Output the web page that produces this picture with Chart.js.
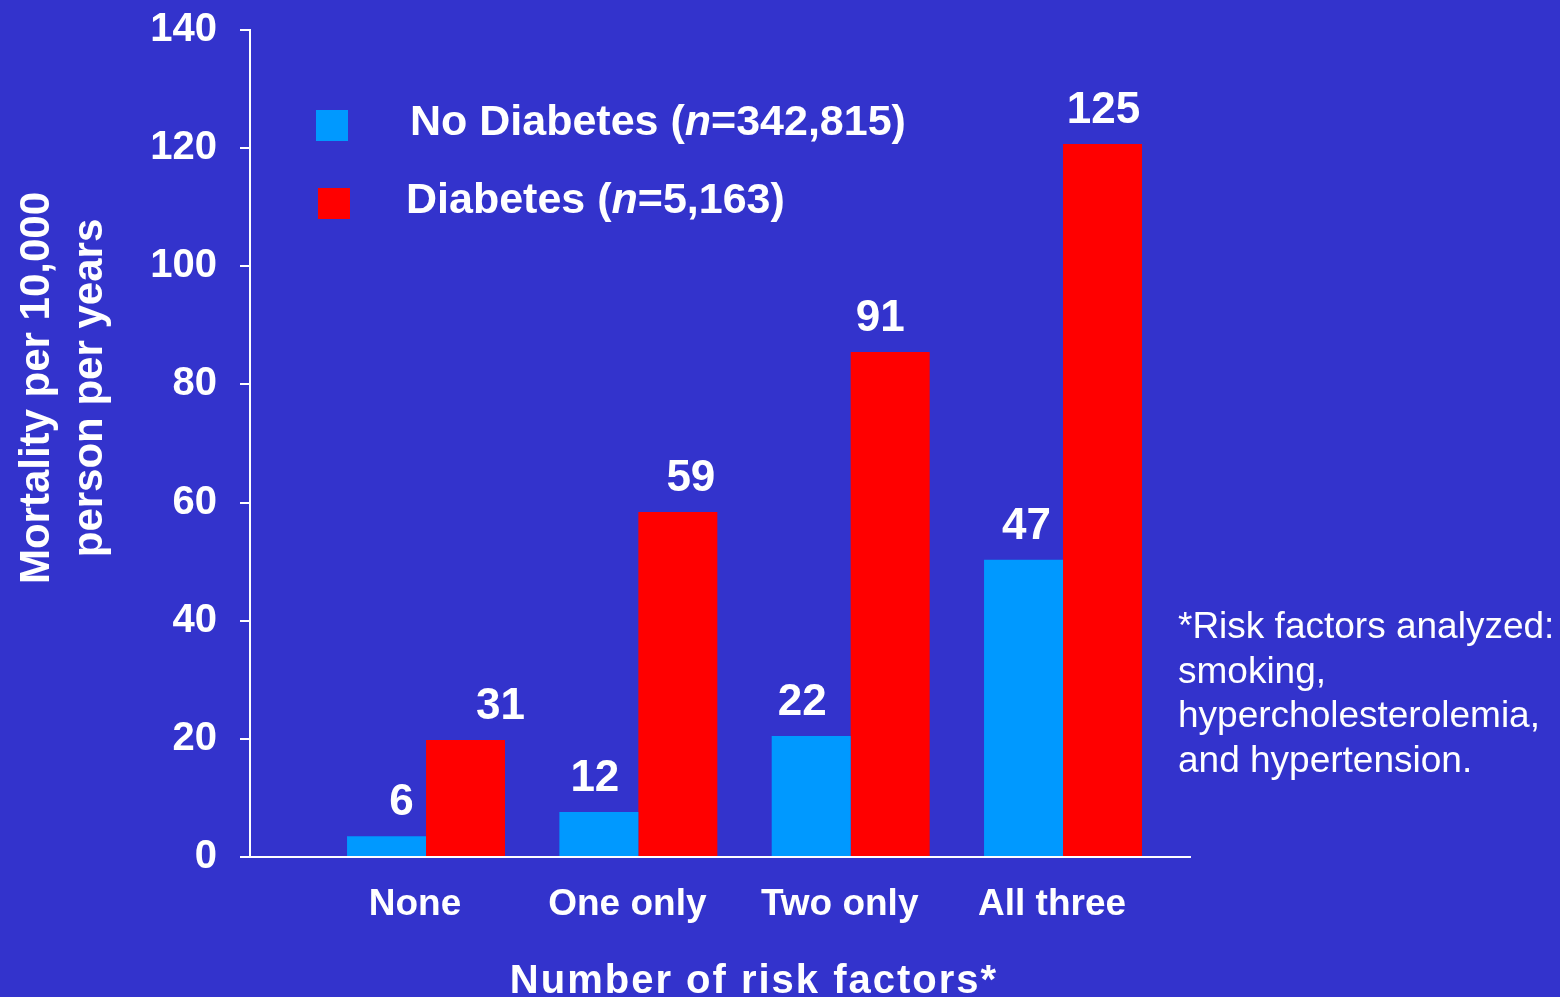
<!DOCTYPE html>
<html>
<head>
<meta charset="utf-8">
<script src="https://cdn.jsdelivr.net/npm/chart.js"></script>
<style>
  html, body { margin: 0; padding: 0; background: #3333cc; }
  #wrap { width: 1560px; height: 997px; }
</style>
</head>
<body>
<div id="wrap"><canvas id="riskChart" width="1560" height="997"></canvas></div>
<script>
const categories = ["None", "One only", "Two only", "All three"];
const seriesNames = ["No Diabetes", "Diabetes"];
const seriesCounts = ["342,815", "5,163"];
const noDiabetesBars = [3.5, 7.6, 20.5, 50.3];
const diabetesBars = [19.8, 58.4, 85.5, 120.7];
const noDiabetesLabels = ["6", "12", "22", "47"];
const diabetesLabels = ["31", "59", "91", "125"];
const yTitle = ["Mortality per 10,000", "person per years"];
const xTitle = "Number of risk factors*";
const footnote = ["*Risk factors analyzed:", "smoking,", "hypercholesterolemia,", "and hypertension."];

const FONT = "'Liberation Sans', Arial, sans-serif";
const WHITE = "#ffffff";
const colors = ["#0099ff", "#ff0000"];
// the labels in the slide sit a little off the bar centres
const labelNudge = [[15, -4, -9, 3], [35, 13, -10, 1]];

function toPoints(values) {
    return values.map((v, i) => ({ x: i, y: v }));
}

const extras = {
    id: "extras",
    beforeDraw(chart) {
        const ctx = chart.ctx;
        ctx.save();
        ctx.fillStyle = "#3333cc";
        ctx.fillRect(0, 0, chart.width, chart.height);
        ctx.restore();
    },
    afterDraw(chart) {
        const ctx = chart.ctx;
        ctx.save();
        ctx.fillStyle = WHITE;

        // value labels over the bars
        const labelSets = [noDiabetesLabels, diabetesLabels];
        ctx.font = "bold 44px " + FONT;
        ctx.textAlign = "center";
        ctx.textBaseline = "middle";
        labelSets.forEach((labels, di) => {
            chart.getDatasetMeta(di).data.forEach((bar, i) => {
                ctx.fillText(labels[i], bar.x + labelNudge[di][i], bar.y - 33);
            });
        });

        // legend
        const legendY = [125, 203];
        const textX = [410, 406];
        legendY.forEach((y, i) => {
            ctx.fillStyle = colors[i];
            ctx.fillRect(316 + i * 2, y - 15, 32, 31);
            ctx.fillStyle = WHITE;
            ctx.textAlign = "left";
            ctx.textBaseline = "middle";
            let x = textX[i];
            const parts = [
                ["bold ", seriesNames[i] + " ("],
                ["italic bold ", "n"],
                ["bold ", "=" + seriesCounts[i] + ")"]
            ];
            parts.forEach(p => {
                ctx.font = p[0] + "43px " + FONT;
                ctx.fillText(p[1], x, y - 2);
                x += ctx.measureText(p[1]).width;
            });
        });

        // y axis title
        ctx.save();
        ctx.font = "bold 42px " + FONT;
        ctx.textAlign = "center";
        ctx.textBaseline = "middle";
        ctx.translate(0, 388);
        ctx.rotate(-Math.PI / 2);
        ctx.fillText(yTitle[0], 0, 37);
        ctx.fillText(yTitle[1], 0, 90);
        ctx.restore();

        // x axis title
        ctx.font = "bold 40px " + FONT;
        ctx.letterSpacing = "2px";
        ctx.textAlign = "center";
        ctx.textBaseline = "middle";
        ctx.fillText(xTitle, 754, 982);
        ctx.letterSpacing = "0px";

        // footnote
        ctx.font = "37px " + FONT;
        ctx.textAlign = "left";
        footnote.forEach((line, i) => {
            ctx.fillText(line, 1178, 628 + i * 44.6);
        });
        ctx.restore();
    }
};

new Chart(document.getElementById("riskChart"), {
    type: "bar",
    data: {
        datasets: [
            {
                label: seriesNames[0] + " (n=" + seriesCounts[0] + ")",
                data: toPoints(noDiabetesBars),
                backgroundColor: colors[0],
                borderWidth: 0
            },
            {
                label: seriesNames[1] + " (n=" + seriesCounts[1] + ")",
                data: toPoints(diabetesBars),
                backgroundColor: colors[1],
                borderWidth: 0
            }
        ]
    },
    options: {
        responsive: false,
        animation: false,
        categoryPercentage: 0.744,
        barPercentage: 1.0,
        layout: { padding: { top: 30, right: 370, bottom: 0, left: 0 } },
        plugins: {
            legend: { display: false },
            tooltip: { enabled: false }
        },
        scales: {
            x: {
                type: "linear",
                offset: false,
                min: -0.829,
                max: 3.598,
                afterBuildTicks: s => { s.ticks = categories.map((c, i) => ({ value: i })); },
                afterFit: s => { s.height = 140; s.paddingLeft = 0; s.paddingRight = 0; },
                ticks: {
                    callback: v => categories[v],
                    color: WHITE,
                    font: { family: FONT, size: 37, weight: "bold" },
                    padding: 26,
                    labelOffset: -11,
                    autoSkip: false,
                    maxRotation: 0
                },
                grid: { display: false, drawTicks: false, offset: false },
                border: { color: WHITE, width: 2 }
            },
            y: {
                min: 0,
                max: 140,
                afterFit: s => { s.width = 250; s.paddingTop = 0; s.paddingBottom = 0; },
                ticks: {
                    stepSize: 20,
                    color: WHITE,
                    font: { family: FONT, size: 40, weight: "bold" },
                    padding: 23
                },
                grid: { drawOnChartArea: false, color: WHITE, lineWidth: 2, tickLength: 10 },
                border: { color: WHITE, width: 2 }
            }
        }
    },
    plugins: [extras]
});
</script>
</body>
</html>
